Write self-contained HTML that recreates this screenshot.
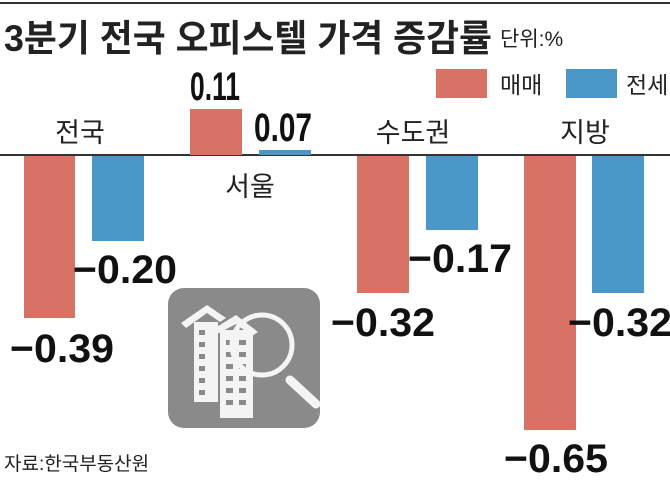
<!DOCTYPE html>
<html><head><meta charset="utf-8"><style>
body{margin:0;width:670px;height:480px;background:#fff;overflow:hidden;font-family:"Liberation Sans","Noto Sans CJK KR",sans-serif;}
svg text{font-family:"Liberation Sans","Noto Sans CJK KR",sans-serif;}
</style></head><body>
<svg width="670" height="480" viewBox="0 0 670 480">
<rect x="0" y="2" width="670" height="2" fill="#333"/>
<text x="4" y="51" font-size="37" font-weight="bold" fill="#222" textLength="488" lengthAdjust="spacingAndGlyphs">3분기 전국 오피스텔 가격 증감률</text>
<text x="500" y="46" font-size="21" fill="#222">단위:%</text>
<rect x="436" y="69" width="51" height="29" fill="#d87264"/>
<text x="500" y="93" font-size="23" fill="#222">매매</text>
<rect x="566" y="69" width="51" height="29" fill="#4a97c8"/>
<text x="626" y="93" font-size="23" fill="#222">전세</text>
<rect x="0" y="154" width="670" height="2" fill="#333"/>
<rect x="24" y="156" width="51" height="162" fill="#d87264"/>
<rect x="92" y="156" width="52" height="85" fill="#4a97c8"/>
<rect x="190" y="109" width="52" height="46" fill="#d87264"/>
<rect x="259" y="150" width="52" height="5" fill="#4a97c8"/>
<rect x="357" y="156" width="52" height="137" fill="#d87264"/>
<rect x="426" y="156" width="52" height="74" fill="#4a97c8"/>
<rect x="524" y="156" width="52" height="274" fill="#d87264"/>
<rect x="592" y="156" width="52" height="137" fill="#4a97c8"/>
<g font-size="27" fill="#222" text-anchor="middle">
<text x="80" y="142">전국</text>
<text x="250" y="196">서울</text>
<text x="413" y="142">수도권</text>
<text x="585" y="142">지방</text>
</g>
<g font-size="40" font-weight="bold" fill="#111" text-anchor="middle">
<text x="62" y="362" textLength="104" lengthAdjust="spacingAndGlyphs">−0.39</text>
<text x="125" y="283" textLength="104" lengthAdjust="spacingAndGlyphs">−0.20</text>
<text x="215" y="100" textLength="50" lengthAdjust="spacingAndGlyphs">0.11</text>
<text x="283" y="141" textLength="58" lengthAdjust="spacingAndGlyphs">0.07</text>
<text x="383" y="336" textLength="104" lengthAdjust="spacingAndGlyphs">−0.32</text>
<text x="460" y="272" textLength="104" lengthAdjust="spacingAndGlyphs">−0.17</text>
<text x="556" y="472" textLength="104" lengthAdjust="spacingAndGlyphs">−0.65</text>
<text x="620" y="336" textLength="104" lengthAdjust="spacingAndGlyphs">−0.32</text>
</g>
<rect x="168" y="288" width="152" height="140" rx="16" fill="#8a8a8a"/>
<g fill="#f4f4f4">
<polygon points="181,323 207,305 226,318 220,322 207,313 186,328"/>
<rect x="194" y="322" width="24" height="80"/>
<polygon points="212,330 236,315 258,332 252,336 236,324 217,334"/>
<rect x="220" y="330" width="33" height="88"/>
</g>
<g fill="#8a8a8a">
<rect x="199" y="330" width="6" height="5"/><rect x="199" y="342" width="6" height="5"/><rect x="199" y="354" width="6" height="5"/><rect x="199" y="366" width="6" height="5"/><rect x="199" y="378" width="6" height="5"/><rect x="199" y="390" width="6" height="5"/>
<rect x="226" y="340" width="7" height="5"/><rect x="239" y="340" width="7" height="5"/>
<rect x="226" y="352" width="7" height="5"/><rect x="239" y="352" width="7" height="5"/>
<rect x="226" y="364" width="7" height="5"/><rect x="239" y="364" width="7" height="5"/>
<rect x="226" y="376" width="7" height="5"/><rect x="239" y="376" width="7" height="5"/>
<rect x="226" y="388" width="7" height="5"/><rect x="239" y="388" width="7" height="5"/>
<rect x="226" y="400" width="7" height="5"/><rect x="239" y="400" width="7" height="5"/>
</g>
<circle cx="262" cy="345" r="30" fill="none" stroke="#f4f4f4" stroke-width="5"/>
<line x1="290" y1="380" x2="316" y2="404" stroke="#f4f4f4" stroke-width="9" stroke-linecap="round"/>
<text x="4" y="470" font-size="19" fill="#222">자료:한국부동산원</text>
</svg>
</body></html>
